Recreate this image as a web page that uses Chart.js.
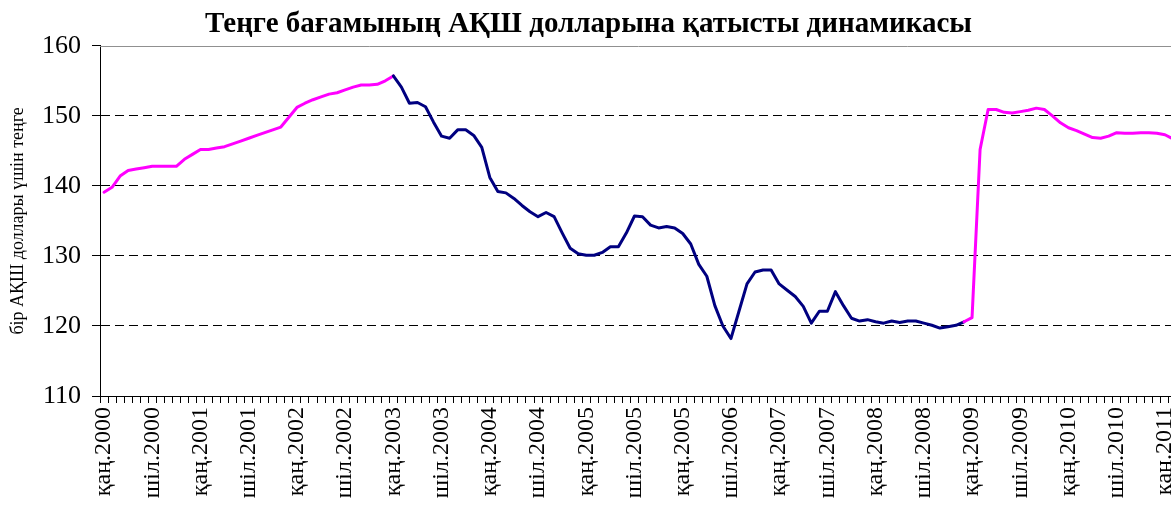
<!DOCTYPE html>
<html><head><meta charset="utf-8">
<script src="https://cdn.jsdelivr.net/npm/chart.js@4/dist/chart.umd.min.js"></script>
<style>
html,body{margin:0;padding:0;background:#fff;overflow:hidden;}
#wrap{width:1171px;height:507px;overflow:hidden;position:relative;}
canvas{display:block;}
</style></head><body>
<div id="wrap"><canvas id="c" width="1180" height="507"></canvas></div>
<script>
// ---- data ----
const monthNames = ['қаң','ақп','нау','сәу','мам','мау','шіл','там','қыр','қаз','қар','жел'];
const years = [2000,2001,2002,2003,2004,2005,2006,2007,2008,2009,2010,2011];
const categories = [];
for (const y of years) for (const m of monthNames) { if (categories.length < 134) categories.push(m + '.' + y); }

// tick labels shown every 6 months (as printed in the original)
const tickLabels = ['қаң.2000','шіл.2000','қаң.2001','шіл.2001','қаң.2002','шіл.2002',
  'қаң.2003','шіл.2003','қаң.2004','шіл.2004','қаң.2005','шіл.2005','қаң.2005',
  'шіл.2006','қаң.2007','шіл.2007','қаң.2008','шіл.2008','қаң.2009','шіл.2009',
  'қаң.2010','шіл.2010','қаң.2011'];

// tenge per US dollar, monthly
const rate2000 = [139.1,139.8,141.4,142.2,142.4,142.6,142.8,142.8,142.8,142.8,143.8,144.5];
const rate2001 = [145.2,145.2,145.4,145.6,146.0,146.4,146.8,147.2,147.6,148.0,148.4,149.8];
const rate2002 = [151.2,151.8,152.3,152.7,153.1,153.3,153.7,154.1,154.4,154.4,154.5,155.0];
const rate2003 = [155.7,154.1,151.8,151.9,151.3,149.1,147.1,146.8,148.0,148.0,147.2,145.5];
const rate2004 = [141.2,139.2,139.0,138.2,137.2,136.3,135.6,136.2,135.6,133.3,131.1,130.3];
const rate2005 = [130.1,130.1,130.5,131.3,131.3,133.3,135.7,135.6,134.4,134.0,134.2,134.0];
const rate2006 = [133.2,131.7,128.8,127.1,122.9,120.0,118.2,122.1,126.0,127.7,128.0,128.0];
const rate2007 = [126.0,125.1,124.2,122.8,120.4,122.1,122.1,124.9,122.9,121.1,120.7,120.9];
const rate2008 = [120.6,120.4,120.7,120.5,120.7,120.7,120.4,120.1,119.7,119.9,120.1,120.6];
const rate2009 = [121.2,145.2,150.9,150.9,150.5,150.4,150.6,150.8,151.1,150.9,150.0,149.0];
const rate2010 = [148.3,147.9,147.4,146.9,146.8,147.1,147.6,147.5,147.5,147.6,147.6,147.5];
const rate2011 = [147.3,146.7];
const rates = [].concat(rate2000,rate2001,rate2002,rate2003,rate2004,rate2005,rate2006,
  rate2007,rate2008,rate2009,rate2010,rate2011);

const NAVY = '#000080', MAGENTA = '#ff00ff';
const navyStart = 36, navyEnd = 107; // segments drawn in navy

const plotBorder = {
  id: 'plotBorder',
  beforeDatasetsDraw(chart) {
    const {ctx, chartArea} = chart;
    ctx.save();
    ctx.strokeStyle = '#909090';
    ctx.lineWidth = 1;
    ctx.beginPath();
    ctx.moveTo(chartArea.left, Math.round(chartArea.top) + 0.5);
    ctx.lineTo(chartArea.right, Math.round(chartArea.top) + 0.5);
    ctx.stroke();
    ctx.restore();
  }
};

const serif = 'Liberation Serif';
new Chart(document.getElementById('c'), {
  type: 'line',
  data: {
    labels: categories,
    datasets: [{
      data: rates,
      borderColor: MAGENTA,
      borderWidth: 3,
      pointRadius: 0,
      tension: 0,
      borderJoinStyle: 'round',
      borderCapStyle: 'round',
      segment: {
        borderColor: c => (c.p0DataIndex >= navyStart && c.p0DataIndex < navyEnd) ? NAVY : MAGENTA
      }
    }]
  },
  options: {
    responsive: false,
    animation: false,
    layout: {padding: {left: 0, right: 3, top: 0, bottom: 0}},
    plugins: {
      legend: {display: false},
      tooltip: {enabled: false},
      title: {
        display: true,
        text: 'Теңге бағамының АҚШ долларына қатысты динамикасы',
        color: '#000',
        font: {family: serif, size: 29, weight: 'bold'},
        padding: {top: 7, bottom: 4}
      }
    },
    scales: {
      x: {
        type: 'category',
        offset: true,
        grid: {display: true, drawOnChartArea: false, drawTicks: true, tickLength: 7, offset: true, color: '#000', tickColor: '#000'},
        border: {display: true, color: '#000', width: 1},
        ticks: {
          autoSkip: false, minRotation: 90, maxRotation: 90, padding: 4,
          color: '#000', font: {family: serif, size: 24},
          callback: (v, i) => (i % 6 === 0 && tickLabels[i / 6] !== undefined) ? tickLabels[i / 6] : ''
        },
        afterFit: s => { s.height = 111; s.paddingLeft = 0; s.paddingRight = 0; }
      },
      y: {
        min: 110, max: 160,
        grid: {
          color: c => (c.tick && c.tick.value === 160) ? 'rgba(0,0,0,0)' : '#000',
          lineWidth: 1, tickLength: 8, tickColor: '#000', tickBorderDash: []
        },
        border: {display: true, color: '#000', width: 1, dash: [9, 5]},
        ticks: {stepSize: 10, padding: 11, color: '#000', font: {family: serif, size: 26}},
        title: {display: true, text: 'бір АҚШ доллары үшін теңге', color: '#000',
          font: {family: serif, size: 18}, padding: {top: 7, bottom: 0}},
        afterFit: s => { s.width = 100; }
      }
    }
  },
  plugins: [plotBorder]
});
</script>
</body></html>
